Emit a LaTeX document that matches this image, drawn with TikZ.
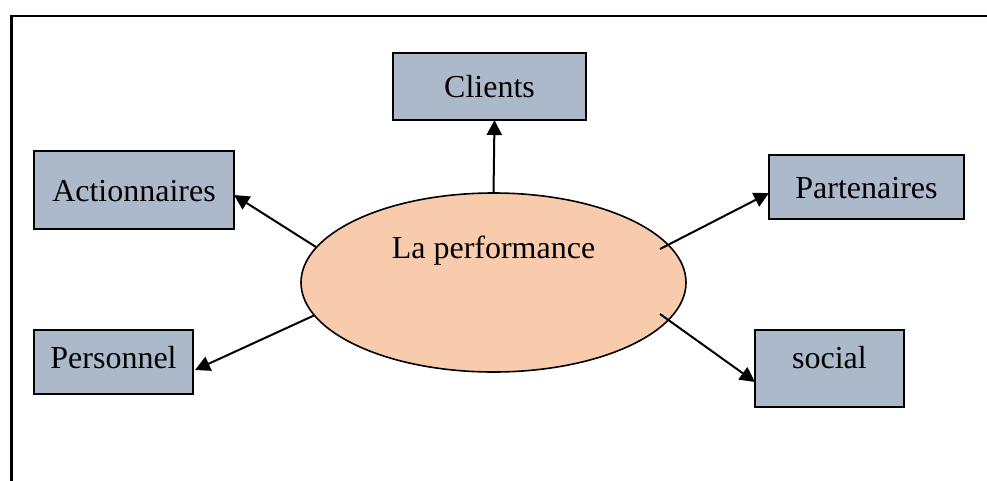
\documentclass[tikz,border=0pt]{standalone}
\usepackage{fontspec}
\setmainfont{Liberation Serif}
\usetikzlibrary{arrows.meta,positioning,backgrounds,shapes.geometric,calc}
\definecolor{boxblue}{HTML}{ACB9CA}
\definecolor{peach}{HTML}{F8CBAD}

\begin{document}
\begin{tikzpicture}[x=1pt,y=-1pt,
  box/.style={draw,line width=1.3pt,fill=boxblue,inner sep=0pt,outer sep=0pt,font=\fontsize{32}{38}\selectfont,text height=22pt,text depth=0pt},
  hub/.style={draw,ellipse,line width=1.6pt,fill=peach,inner sep=0pt,outer sep=0pt,font=\fontsize{32}{38}\selectfont},
  >={Triangle[length=15pt,width=15pt]}]
\clip (0,0) rectangle (987,480);
\draw[line width=2.2pt] (11.5,16) rectangle (1000,500);
\node[hub,minimum width=385pt,minimum height=179pt,text height=22pt,text depth=71pt] (PERF) at (493.5,282.5) {La performance};
\node[box,minimum width=193pt,minimum height=67pt] (CLIENTS) at (489.5,86.5) {Clients};
\node[box,minimum width=200pt,minimum height=78pt] (ACTION) at (134,190) {Actionnaires};
\node[box,minimum width=195pt,minimum height=64pt,text depth=-6pt] (PART) at (866.5,187) {Partenaires};
\node[box,minimum width=159pt,minimum height=64pt,text depth=9pt] (PERS) at (113.5,362) {Personnel};
\node[box,minimum width=149pt,minimum height=77pt,text depth=23pt] (SOC) at (829.5,368.5) {social};
\begin{scope}[line width=2pt]
\draw[->] (PERF.north) -- ($(CLIENTS.south)+(5,0)$);
\draw[->] ($(PERF)+(-177.5,-35.5)$) -- ($(ACTION.east)+(0,5)$);
\draw[->] ($(PERF)+(166.5,-33.5)$) -- ($(PART.west)+(0,6)$);
\draw[->] ($(PERF)+(-178.5,32.5)$) -- ($(PERS.east)+(2,8)$);
\draw[->] ($(PERF)+(166.5,31.5)$) -- ($(SOC.west)+(0,13.5)$);
\end{scope}
\end{tikzpicture}
\end{document}
